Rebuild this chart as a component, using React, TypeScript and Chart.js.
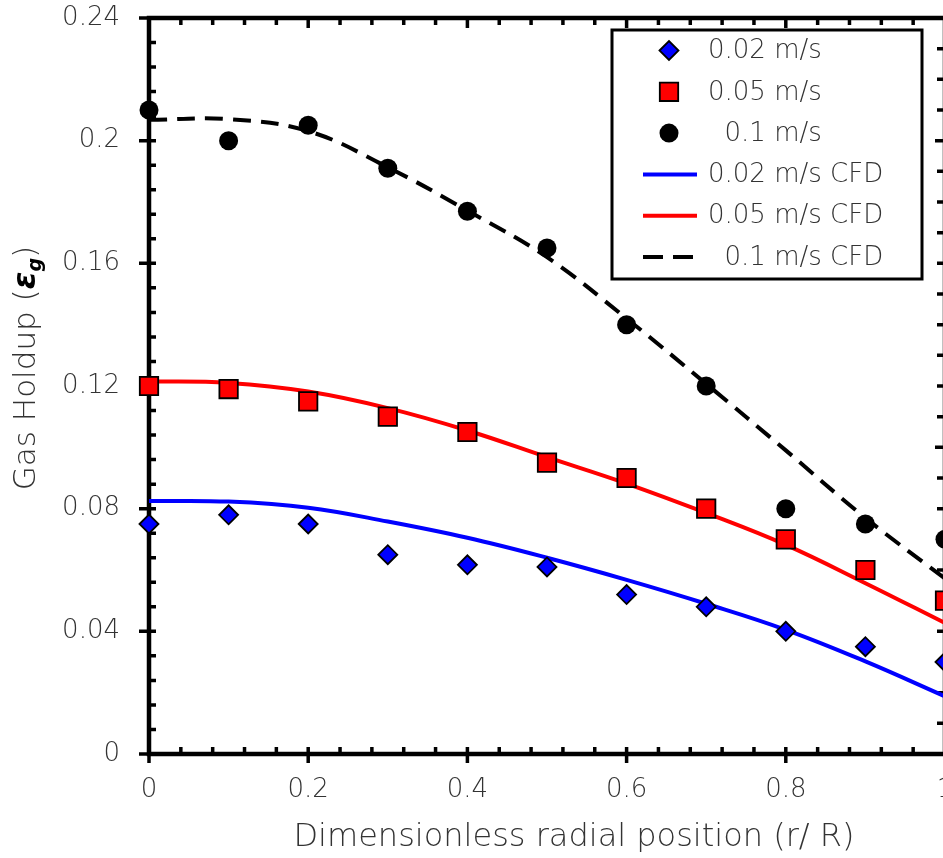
import React, { useEffect, useRef } from "react";
import { Chart, registerables } from "chart.js";
import { drawPoint } from "chart.js/helpers";

Chart.register(...registerables);

// ---------- data ----------
const radialPositions = [0, 0.1, 0.2, 0.3, 0.4, 0.5, 0.6, 0.7, 0.8, 0.9, 1.0];
const exp002 = [0.075, 0.078, 0.075, 0.065, 0.0617, 0.061, 0.052, 0.048, 0.040, 0.035, 0.030];
const exp005 = [0.120, 0.119, 0.115, 0.110, 0.105, 0.095, 0.090, 0.080, 0.070, 0.060, 0.050];
const exp010 = [0.210, 0.200, 0.205, 0.191, 0.177, 0.165, 0.140, 0.120, 0.080, 0.075, 0.070];
const cfd002 = [0.0825, 0.0823, 0.0803, 0.0758, 0.0705, 0.0640, 0.0568, 0.0490, 0.0405, 0.0302, 0.0188];
const cfd005 = [0.1215, 0.1210, 0.1182, 0.1128, 0.1055, 0.0968, 0.0882, 0.0786, 0.0682, 0.0557, 0.0427];
const cfd010 = [0.2068, 0.2070, 0.2031, 0.1913, 0.1772, 0.1620, 0.1420, 0.1207, 0.0990, 0.0770, 0.0572];
const seriesLabels = ["0.02 m/s", "0.05 m/s", "0.1 m/s", "0.02 m/s CFD", "0.05 m/s CFD", "0.1 m/s CFD"];
const xAxisTitle = "Dimensionless radial position (r/ R)";
const yAxisTitleText = "Gas Holdup (";
const yAxisTitleSymbol = "ε";
const yAxisTitleSub = "g";
const yAxisTitleEnd = ")";

const FONT = "'DejaVu Sans', sans-serif";
const TEXT = "#333333";
const W = 300;

const toPts = (ys: number[]) => radialPositions.map((x, i) => ({ x, y: ys[i] }));

const framePlugin = {
  id: "frame",
  beforeDatasetsDraw(chart: any) {
    const { ctx, chartArea: a, scales } = chart;
    const x = scales.x, y = scales.y;
    ctx.save();
    ctx.strokeStyle = "#000";
    ctx.lineCap = "butt";
    ctx.lineJoin = "miter";
    ctx.lineWidth = 4.5;
    ctx.strokeRect(a.left, a.top, a.right - a.left, a.bottom - a.top);
    ctx.lineWidth = 3.5;
    ctx.beginPath();
    // left axis: major 0.04, minor 0.008
    for (let i = 0; i <= 30; i++) {
      const py = y.getPixelForValue(i * 0.008);
      const major = i % 5 === 0;
      ctx.moveTo(major ? a.left - 10 : a.left, py);
      ctx.lineTo(a.left + 7, py);
    }
    // right axis: major 0.1, minor 0.01
    for (let i = 0; i <= 24; i++) {
      const py = y.getPixelForValue(i * 0.01);
      const major = i % 10 === 0;
      ctx.moveTo(a.right, py);
      ctx.lineTo(a.right - (major ? 10 : 8), py);
    }
    // bottom & top: major 0.2, minor 0.04
    for (let i = 0; i <= 25; i++) {
      const px = x.getPixelForValue(i * 0.04);
      const major = i % 5 === 0;
      ctx.moveTo(px, major ? a.bottom + 9 : a.bottom);
      ctx.lineTo(px, a.bottom - 7);
      ctx.moveTo(px, a.top);
      ctx.lineTo(px, a.top + (major ? 10 : 7));
    }
    ctx.stroke();
    ctx.restore();
  },
  afterDraw(chart: any) {
    const { ctx } = chart;
    ctx.save();
    ctx.fillStyle = TEXT;
    // x title
    ctx.font = `${W} 32px ${FONT}`;
    ctx.textAlign = "center";
    ctx.textBaseline = "alphabetic";
    ctx.fillText(xAxisTitle, 574, 846);
    // y title
    ctx.translate(24, 368);
    ctx.rotate(-Math.PI / 2);
    const fN = `${W} 31px ${FONT}`;
    const fS = `italic bold 32px ${FONT}`;
    const fSub = `italic bold 19px ${FONT}`;
    ctx.font = fN;
    const w1 = ctx.measureText(yAxisTitleText).width;
    const w4 = ctx.measureText(yAxisTitleEnd).width;
    ctx.font = fS;
    const w2 = ctx.measureText(yAxisTitleSymbol).width;
    ctx.font = fSub;
    const w3 = ctx.measureText(yAxisTitleSub).width;
    let cx = -(w1 + w2 + w3 + w4) / 2;
    ctx.textAlign = "left";
    ctx.textBaseline = "alphabetic";
    const base = 11;
    ctx.font = fN; ctx.fillText(yAxisTitleText, cx, base); cx += w1;
    ctx.font = fS; ctx.fillStyle = "#000"; ctx.fillText(yAxisTitleSymbol, cx, base); cx += w2;
    ctx.font = fSub; ctx.fillText(yAxisTitleSub, cx, base + 6); cx += w3;
    ctx.font = fN; ctx.fillStyle = TEXT; ctx.fillText(yAxisTitleEnd, cx, base);
    ctx.restore();

    // legend
    const box = { left: 612, top: 30, right: 922, bottom: 279 };
    ctx.save();
    ctx.fillStyle = "#fff";
    ctx.fillRect(box.left, box.top, box.right - box.left, box.bottom - box.top);
    ctx.strokeStyle = "#000";
    ctx.lineWidth = 3;
    ctx.strokeRect(box.left, box.top, box.right - box.left, box.bottom - box.top);
    const datasets = chart.data.datasets;
    const rowH = 41.3;
    const firstY = 50.5;
    const markX = 669;
    ctx.font = `${W} 26px ${FONT}`;
    const nums = datasets.map((d: any) => d.label.split(" ")[0]);
    const numW = Math.max(...nums.map((n: string) => ctx.measureText(n).width));
    const numRight = 708 + numW;
    datasets.forEach((d: any, i: number) => {
      const cy = firstY + i * rowH;
      if (d.showLine) {
        ctx.save();
        ctx.strokeStyle = d.borderColor;
        ctx.lineWidth = d.borderWidth;
        ctx.setLineDash(d.borderDash ? [20, 10] : []);
        ctx.beginPath();
        ctx.moveTo(643, cy);
        ctx.lineTo(697, cy);
        ctx.stroke();
        ctx.restore();
      } else {
        ctx.save();
        ctx.fillStyle = d.backgroundColor;
        ctx.strokeStyle = d.borderColor;
        ctx.lineWidth = d.borderWidth;
        drawPoint(ctx, { pointStyle: d.pointStyle, radius: d.pointRadius, rotation: 0, borderWidth: d.borderWidth }, markX, cy);
        ctx.restore();
      }
      const parts = d.label.split(" ");
      const num = parts[0];
      const rest = " " + parts.slice(1).join(" ");
      ctx.fillStyle = TEXT;
      ctx.textBaseline = "middle";
      ctx.textAlign = "right";
      ctx.fillText(num, numRight, cy + 1);
      ctx.textAlign = "left";
      ctx.fillText(rest, numRight, cy + 1);
    });
    ctx.restore();
  },
};

export default function App() {
  const ref = useRef<HTMLCanvasElement | null>(null);
  useEffect(() => {
    if (!ref.current) return;
    const markerBase = { showLine: false, clip: false as any, order: 0 };
    const lineBase = { showLine: true, pointRadius: 0, pointHoverRadius: 0, borderWidth: 4, tension: 0.4, order: 1, fill: false };
    const chart = new Chart(ref.current, {
      type: "scatter",
      data: {
        datasets: [
          { ...markerBase, label: seriesLabels[0], data: toPts(exp002), pointStyle: "rectRot", pointRadius: 9.5, backgroundColor: "#0000ff", borderColor: "#000", borderWidth: 1.8 },
          { ...markerBase, label: seriesLabels[1], data: toPts(exp005), pointStyle: "rect", pointRadius: 13, backgroundColor: "#ff0000", borderColor: "#000", borderWidth: 1.8 },
          { ...markerBase, label: seriesLabels[2], data: toPts(exp010), pointStyle: "circle", pointRadius: 9.5, backgroundColor: "#000", borderColor: "#000", borderWidth: 0 },
          { ...lineBase, label: seriesLabels[3], data: toPts(cfd002), borderColor: "#0000ff", backgroundColor: "#0000ff" },
          { ...lineBase, label: seriesLabels[4], data: toPts(cfd005), borderColor: "#ff0000", backgroundColor: "#ff0000" },
          { ...lineBase, label: seriesLabels[5], data: toPts(cfd010), borderColor: "#000", backgroundColor: "#000", borderDash: [18, 10] },
        ] as any,
      },
      options: {
        animation: false,
        responsive: false,
        devicePixelRatio: 1,
        layout: { autoPadding: false, padding: { left: 0, top: 18, right: 3, bottom: 0 } } as any,
        plugins: { legend: { display: false }, tooltip: { enabled: false }, title: { display: false } },
        scales: {
          x: {
            type: "linear",
            min: 0,
            max: 1,
            grid: { display: false, drawTicks: false },
            border: { display: false },
            ticks: {
              stepSize: 0.2,
              autoSkip: false,
              maxRotation: 0,
              padding: 21,
              color: TEXT,
              font: { family: FONT, size: 26, weight: W as any },
              callback: (v: any) => String(parseFloat(Number(v).toFixed(3))),
            },
            afterFit: (s: any) => { s.height = 104; s.paddingLeft = 0; s.paddingRight = 0; },
          },
          y: {
            type: "linear",
            min: 0,
            max: 0.24,
            grid: { display: false, drawTicks: false },
            border: { display: false },
            ticks: {
              stepSize: 0.04,
              autoSkip: false,
              padding: 29,
              color: TEXT,
              font: { family: FONT, size: 26, weight: W as any },
              callback: (v: any) => String(parseFloat(Number(v).toFixed(3))),
            },
            afterFit: (s: any) => { s.width = 149; s.paddingTop = 0; s.paddingBottom = 0; },
          },
        },
      },
      plugins: [framePlugin],
    });
    return () => chart.destroy();
  }, []);
  return (
    <div style={{ position: "fixed", left: 0, top: 0, width: 943, height: 858, overflow: "hidden", background: "#fff" }}>
      <canvas ref={ref} width={948} height={858} style={{ width: 948, height: 858, display: "block" }} />
    </div>
  );
}
